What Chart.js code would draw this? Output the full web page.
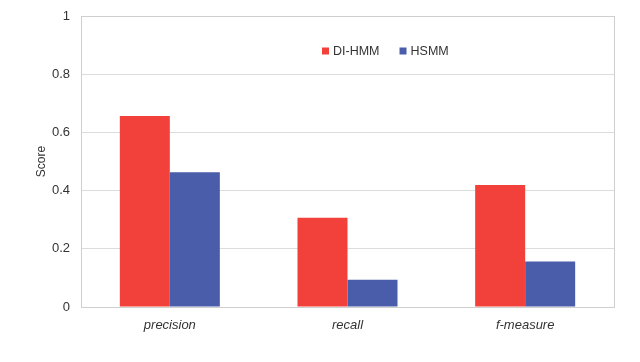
<!DOCTYPE html>
<html>
<head>
<meta charset="utf-8">
<script src="https://cdn.jsdelivr.net/npm/chart.js@4/dist/chart.umd.min.js"></script>
<style>
  html, body { margin: 0; padding: 0; background: #fff; }
  #wrap { width: 640px; height: 362px; }
</style>
</head>
<body>
<div id="wrap"><canvas id="score-chart" width="640" height="362"></canvas></div>
<script>
// values
const categories = ['precision', 'recall', 'f-measure'];
const diHmm = [0.656, 0.307, 0.419];
const hsmm = [0.463, 0.094, 0.156];
const yTicks = [0, 0.2, 0.4, 0.6, 0.8, 1];

const FONT = "'Liberation Sans', Arial, sans-serif";

// thin frame round the plot area (top and right edges)
const frame = {
    id: 'frame',
    afterDraw(chart) {
        const a = chart.chartArea;
        const c = chart.ctx;
        c.save();
        c.strokeStyle = '#cfcfcf';
        c.lineWidth = 1;
        c.strokeRect(Math.round(a.left) + 0.5, Math.round(a.top) + 0.5,
            Math.round(a.right - a.left), Math.round(a.bottom - a.top));
        c.restore();
    }
};

// small legend sitting inside the plot, one row
const inlineLegend = {
    id: 'inlineLegend',
    afterDatasetsDraw(chart) {
        const c = chart.ctx;
        const a = chart.chartArea;
        let x = a.left + 241;
        const y = a.top + 35;
        c.save();
        c.font = '12.5px ' + FONT;
        c.textBaseline = 'middle';
        c.textAlign = 'left';
        chart.data.datasets.forEach(ds => {
            c.fillStyle = ds.backgroundColor;
            c.fillRect(x, y - 3.5, 7, 7);
            c.fillStyle = '#333';
            c.fillText(ds.label, x + 11, y + 0.5);
            x += 11 + c.measureText(ds.label).width + 20;
        });
        c.restore();
    }
};

const ctx = document.getElementById('score-chart').getContext('2d');
new Chart(ctx, {
    type: 'bar',
    data: {
        labels: categories,
        datasets: [
            { label: 'DI-HMM', data: diHmm, backgroundColor: '#f2413b' },
            { label: 'HSMM', data: hsmm, backgroundColor: '#4a5daa' }
        ]
    },
    options: {
        responsive: false,
        animation: false,
        layout: { padding: { left: 0, right: 26, top: 16, bottom: 0 } },
        datasets: { bar: { barPercentage: 1, categoryPercentage: 0.563 } },
        plugins: {
            tooltip: { enabled: false },
            legend: { display: false }
        },
        scales: {
            x: {
                grid: { display: false, drawTicks: false },
                border: { color: '#c8c8c8' },
                ticks: { color: '#333', padding: 11, font: { family: FONT, size: 13, style: 'italic' } },
                afterFit(scale) { scale.height = 55; }
            },
            y: {
                min: 0, max: 1,
                afterBuildTicks(scale) { scale.ticks = yTicks.map(v => ({ value: v })); },
                grid: { color: '#dcdcdc', drawTicks: false },
                border: { color: '#c8c8c8' },
                ticks: {
                    color: '#333', padding: 11, font: { family: FONT, size: 13 },
                    callback: v => String(+v.toFixed(1))
                },
                title: {
                    display: true, text: 'Score', color: '#333',
                    font: { family: FONT, size: 12 },
                    padding: { top: 34, bottom: 0 }
                },
                afterFit(scale) {
                    scale.width = 81;
                    scale.paddingTop = 0;
                    scale.paddingBottom = 0;
                }
            }
        }
    },
    plugins: [frame, inlineLegend]
});
</script>
</body>
</html>
